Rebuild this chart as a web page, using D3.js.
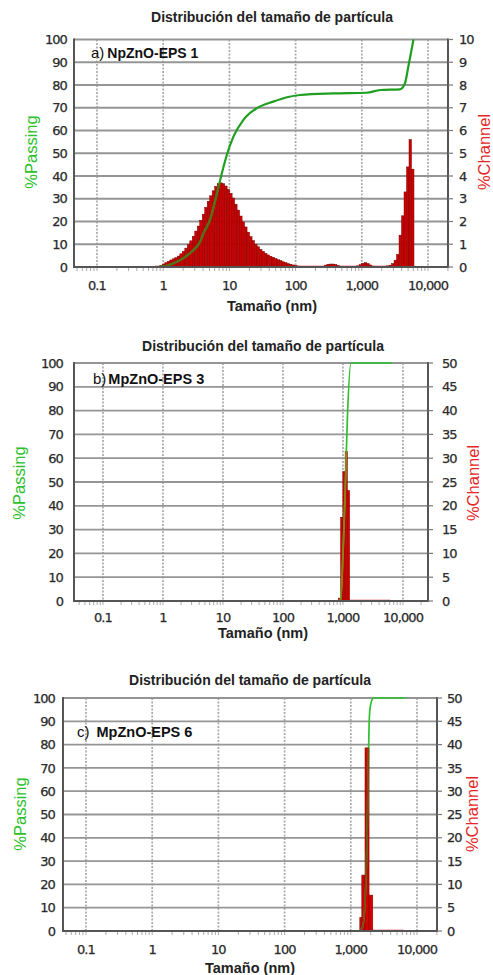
<!DOCTYPE html>
<html>
<head>
<meta charset="utf-8">
<script src="https://cdn.jsdelivr.net/npm/d3@7/dist/d3.min.js"></script>
<style>
  html, body { margin: 0; padding: 0; background: #ffffff; }
  svg { display: block; }
</style>
</head>
<body>
<svg id="chart" width="493" height="975"></svg>
<script>
// ---------- shared text and tick values ----------
const titleText = "Distribución del tamaño de partícula";
const xAxisTitle = "Tamaño (nm)";
const leftAxisTitle = "%Passing";
const rightAxisTitle = "%Channel";
const xTickValues = [0.1, 1, 10, 100, 1000, 10000];
const xTickLabels = ["0.1", "1", "10", "100", "1,000", "10,000"];
const passingTicks = [0, 10, 20, 30, 40, 50, 60, 70, 80, 90, 100];
const channelTicksA = [0, 1, 2, 3, 4, 5, 6, 7, 8, 9, 10];
const channelTicksBC = [0, 5, 10, 15, 20, 25, 30, 35, 40, 45, 50];

// ---------- a) NpZnO-EPS 1 ----------
// channel edges (nm), 8 channels per octave
const chanEdgesA = [
  0.7498, 0.8176, 0.8917,
  0.9723, 1.060, 1.156, 1.261, 1.375, 1.500, 1.635, 1.783,
  1.945, 2.121, 2.313, 2.522, 2.750, 2.999, 3.271, 3.567,
  3.889, 4.241, 4.625, 5.044, 5.500, 5.998, 6.541, 7.134,
  7.778, 8.482, 9.250, 10.09, 11.00, 12.00, 13.08, 14.27,
  15.56, 16.96, 18.50, 20.18, 22.00, 23.99, 26.16, 28.53,
  31.11, 33.93, 37.00, 40.35, 44.00, 47.99, 52.33, 57.07,
  62.23, 67.86, 74.00, 80.70, 88.00, 95.97, 104.7, 114.1,
  124.5, 135.7, 148.0, 161.4, 176.0, 191.9, 209.3, 228.3,
  248.9, 271.5, 296.0, 322.8, 352.0, 383.9, 418.6, 456.5,
  497.8, 542.9, 592.0, 645.6, 704.0, 767.7, 837.2, 913.0,
  995.6, 1086, 1184, 1291, 1408, 1536, 1674, 1826,
  1991, 2172, 2368, 2582, 2816, 3071, 3349, 3652,
  3983, 4343, 4736, 5165, 5632, 6142
];
// % in each channel
const chanPctA = [
  0.01, 0.03, 0.07,
  0.13, 0.19, 0.25, 0.31, 0.36, 0.41, 0.48, 0.58,
  0.69, 0.83, 0.98, 1.15, 1.35, 1.58, 1.80, 2.05,
  2.32, 2.62, 2.89, 3.13, 3.35, 3.54, 3.66, 3.70,
  3.66, 3.56, 3.41, 3.24, 3.03, 2.76, 2.50, 2.24,
  1.98, 1.76, 1.53, 1.33, 1.16, 1.00, 0.89, 0.78,
  0.69, 0.60, 0.53, 0.47, 0.42, 0.37, 0.32, 0.28,
  0.23, 0.19, 0.15, 0.12, 0.09, 0.06, 0.04, 0.02,
  0.01, 0, 0, 0, 0, 0, 0, 0.01,
  0.03, 0.08, 0.12, 0.13, 0.13, 0.11, 0.07, 0.03,
  0.01, 0, 0, 0, 0.01, 0.02, 0.05, 0.10,
  0.16, 0.19, 0.15, 0.09, 0.04, 0.02, 0.01, 0.01,
  0.02, 0.03, 0.05, 0.08, 0.15, 0.30, 0.55, 1.40,
  2.25, 3.30, 4.40, 5.60, 4.30
];
// cumulative % passing
const passSizeA = [0.85, 1.2, 1.8, 2.87, 3.6, 4.05, 5.1, 6.5, 7.7, 9.1, 11.5, 16.3, 26, 46, 74, 117, 372, 1180, 1900, 3790, 4480, 5040, 5600, 6030];
const passPctA  = [0, 0.8, 3, 7.5, 11, 14.8, 20.7, 32.4, 41.2, 49, 57.3, 64.7, 69.8, 72.7, 74.6, 75.6, 76.3, 76.6, 77.8, 78.1, 80.7, 88, 95, 100];

// ---------- b) MpZnO-EPS 3 ----------
const chanEdgesB = [837.2, 913.0, 995.6, 1086, 1184, 1291, 1408, 1536, 1674, 1826, 1991, 2172, 2368, 2582, 2816, 3071, 3349, 3652, 3983, 4343, 4736, 5165, 5632, 6142];
const chanPctB   = [0.6, 17.6, 27.2, 31.4, 23.2, 0, 0, 0, 0, 0, 0, 0, 0, 0, 0, 0, 0, 0, 0, 0, 0, 0, 0];
const passSizeB  = [0.95, 837.2, 913.0, 995.6, 1086, 1184, 1360, 6600];
const passPctB   = [0, 0, 0.6, 18.2, 45.4, 76.8, 100, 100];

// ---------- c) MpZnO-EPS 6 ----------
const chanEdgesC = [1368, 1466, 1638, 1888, 2148, 2400, 2700, 3050, 3450, 3900, 4400, 5000, 5650, 6300];
const chanPctC   = [2.9, 12.0, 39.3, 7.7, 0, 0, 0, 0, 0, 0, 0, 0, 0];
const passSizeC  = [0.95, 1321, 1517, 1656, 1775, 1857, 1910, 1991, 2113, 2223, 6775];
const passPctC   = [0, 0, 2, 15, 45, 78, 92, 97, 99.5, 100, 100];

// ---------- drawing ----------
const svg = d3.select("#chart");
const GREEN = "#1f9f1f";
const RED = "#cc0000";
const tickFont = "'DejaVu Sans', sans-serif";
const sansFont = "'Liberation Sans', Arial, sans-serif";

function tickText(sel) {
  sel.attr("font-family", tickFont).attr("font-size", 13).attr("letter-spacing", -0.9)
    .attr("fill", "#2a2a2a").attr("stroke", "#2a2a2a").attr("stroke-width", 0.25);
}

function drawPanel(p) {
  const g = svg.append("g");
  const x = d3.scaleLog().domain(p.xDomain).range([p.left, p.right]);
  const yP = d3.scaleLinear().domain([0, 100]).range([p.bottom, p.top]);
  const yC = d3.scaleLinear().domain([0, p.chanMax]).range([p.bottom, p.top]);

  // grid: dotted decades, solid every 10 %
  g.append("g").selectAll("line").data(xTickValues).join("line")
    .attr("x1", d => x(d)).attr("x2", d => x(d))
    .attr("y1", p.top).attr("y2", p.bottom)
    .attr("stroke", "#aaaaaa").attr("stroke-width", 1.7)
    .attr("stroke-dasharray", "2,1.5");
  g.append("g").selectAll("line").data(passingTicks).join("line")
    .attr("x1", p.left).attr("x2", p.right)
    .attr("y1", d => yP(d)).attr("y2", d => yP(d))
    .attr("stroke", "#959595").attr("stroke-width", 1.8);

  // minor ticks under the size axis
  g.append("g").selectAll("line").data(x.ticks()).join("line")
    .attr("x1", d => x(d)).attr("x2", d => x(d))
    .attr("y1", p.bottom + 1).attr("y2", p.bottom + 4)
    .attr("stroke", "#aaa").attr("stroke-width", 1);

  // channel histogram
  const bins = p.chanPct.map((v, i) => ({ x0: p.chanEdges[i], x1: p.chanEdges[i + 1], v }));
  const clipId = "bars-" + p.id;
  g.append("clipPath").attr("id", clipId)
    .selectAll("rect").data(bins).join("rect")
    .attr("x", d => x(d.x0)).attr("width", d => x(d.x1) - x(d.x0))
    .attr("y", d => yC(d.v)).attr("height", d => yC(0) - yC(d.v));

  g.append("line")
    .attr("x1", x(p.chanEdges[0])).attr("x2", x(p.chanEdges[p.chanEdges.length - 1]))
    .attr("y1", p.bottom - 0.5).attr("y2", p.bottom - 0.5)
    .attr("stroke", "#dd2020").attr("stroke-width", 1.6);

  g.append("g").selectAll("rect").data(bins.filter(d => d.v > 0)).join("rect")
    .attr("x", d => x(d.x0)).attr("width", d => x(d.x1) - x(d.x0))
    .attr("y", d => yC(d.v)).attr("height", d => yC(0) - yC(d.v))
    .attr("fill", p.barFill).attr("stroke", "#7a0000").attr("stroke-width", 0.5);

  // cumulative passing curve
  const pts = p.passSize.map((s, i) => [s, p.passPct[i]]);
  const line = d3.line().x(d => x(d[0])).y(d => yP(d[1])).curve(d3.curveMonotoneX);
  g.append("path").datum(pts).attr("d", line)
    .attr("fill", "none").attr("stroke", p.green).attr("stroke-width", p.lineWidth)
    .attr("stroke-linejoin", "round");
  // where the curve crosses the bars it shows darker
  g.append("path").datum(pts).attr("d", line)
    .attr("fill", "none").attr("stroke", p.overlap).attr("stroke-width", p.lineWidth)
    .attr("clip-path", `url(#${clipId})`);

  // frame
  const frame = "#555";
  g.append("line").attr("x1", p.left).attr("x2", p.left).attr("y1", p.top - 1).attr("y2", p.bottom + 1)
    .attr("stroke", frame).attr("stroke-width", 2);
  g.append("line").attr("x1", p.right).attr("x2", p.right).attr("y1", p.top - 1).attr("y2", p.bottom + 1)
    .attr("stroke", frame).attr("stroke-width", 2);
  g.append("line").attr("x1", p.left).attr("x2", p.right).attr("y1", p.bottom).attr("y2", p.bottom)
    .attr("stroke", frame).attr("stroke-width", 2.2);

  // left labels
  g.append("g").selectAll("text").data(passingTicks).join("text")
    .attr("x", p.left - p.leftLabelGap).attr("y", d => yP(d)).attr("dy", "0.36em")
    .attr("text-anchor", "end").call(tickText).text(d => d);

  // right ticks + labels
  g.append("g").selectAll("line").data(p.chanTicks).join("line")
    .attr("x1", p.right).attr("x2", p.right + 5)
    .attr("y1", d => yC(d)).attr("y2", d => yC(d))
    .attr("stroke", "#777").attr("stroke-width", 1.2);
  g.append("g").selectAll("text").data(p.chanTicks).join("text")
    .attr("x", p.right + p.rightLabelGap).attr("y", d => yC(d)).attr("dy", "0.36em")
    .attr("text-anchor", "start").call(tickText).text(d => d);

  // size axis labels
  g.append("g").selectAll("text").data(xTickValues).join("text")
    .attr("x", d => x(d)).attr("y", p.bottom + p.xLabelDrop)
    .attr("text-anchor", "middle").call(tickText).text((d, i) => xTickLabels[i]);

  // titles
  g.append("text").attr("x", p.titleX).attr("y", p.titleY)
    .attr("text-anchor", "middle")
    .attr("font-family", sansFont).attr("font-weight", "bold")
    .attr("font-size", 14).attr("fill", "#222").text(titleText);
  g.append("text").attr("x", p.titleX).attr("y", p.axisTitleY)
    .attr("text-anchor", "middle")
    .attr("font-family", sansFont).attr("font-weight", "bold")
    .attr("font-size", 14.5).attr("fill", "#222").text(xAxisTitle);
  g.append("text")
    .attr("transform", `translate(${p.passLabelX},${p.yLabelY}) rotate(-90)`)
    .attr("text-anchor", "middle").attr("dy", "0.35em")
    .attr("font-family", sansFont)
    .attr("font-size", 16.5).attr("fill", "#2cc02c").text(leftAxisTitle);
  g.append("text")
    .attr("transform", `translate(${p.chanLabelX},${p.yLabelY}) rotate(-90)`)
    .attr("text-anchor", "middle").attr("dy", "0.35em")
    .attr("font-family", sansFont)
    .attr("font-size", 16.5).attr("fill", "#e42828").text(rightAxisTitle);

  // sample label
  const lab = g.append("text").attr("x", p.labelX).attr("y", p.labelY)
    .attr("font-family", sansFont).attr("fill", "#111");
  lab.append("tspan").attr("font-size", 15).text(p.letter);
  lab.append("tspan").attr("dx", p.letterGap).attr("font-size", p.sampleSize)
    .attr("font-weight", "bold").text(p.sample);
}

drawPanel({
  id: "a", letter: "a)", sample: "NpZnO-EPS 1", letterGap: 3, sampleSize: 14,
  left: 74, right: 448, top: 39.5, bottom: 267,
  xDomain: [Math.pow(10, -1.347), Math.pow(10, 4.302)],
  chanMax: 10, chanTicks: channelTicksA,
  chanEdges: chanEdgesA, chanPct: chanPctA,
  passSize: passSizeA, passPct: passPctA,
  green: GREEN, overlap: "#5d6a18", lineWidth: 2.2, barFill: RED,
  leftLabelGap: 7, rightLabelGap: 11, xLabelDrop: 23,
  titleX: 272, titleY: 22, axisTitleY: 311,
  passLabelX: 31, chanLabelX: 484, yLabelY: 152,
  labelX: 91, labelY: 58
});

drawPanel({
  id: "b", letter: "b)", sample: "MpZnO-EPS 3", letterGap: 2, sampleSize: 14.5,
  left: 74, right: 428, top: 363, bottom: 601,
  xDomain: [Math.pow(10, -1.483), Math.pow(10, 4.417)],
  chanMax: 50, chanTicks: channelTicksBC,
  chanEdges: chanEdgesB, chanPct: chanPctB,
  passSize: passSizeB, passPct: passPctB,
  green: "#2ec02e", overlap: "#9a7a12", lineWidth: 1.7, barFill: "#d40000",
  leftLabelGap: 11, rightLabelGap: 14, xLabelDrop: 21,
  titleX: 263, titleY: 351, axisTitleY: 638,
  passLabelX: 19, chanLabelX: 473, yLabelY: 483,
  labelX: 93, labelY: 384
});

drawPanel({
  id: "c", letter: "c)", sample: "MpZnO-EPS 6", letterGap: 7, sampleSize: 14.5,
  left: 63, right: 437, top: 698, bottom: 931,
  xDomain: [Math.pow(10, -1.347), Math.pow(10, 4.302)],
  chanMax: 50, chanTicks: channelTicksBC,
  chanEdges: chanEdgesC, chanPct: chanPctC,
  passSize: passSizeC, passPct: passPctC,
  green: "#2ec02e", overlap: "#7a4a10", lineWidth: 1.7, barFill: "#d40000",
  leftLabelGap: 8, rightLabelGap: 10, xLabelDrop: 23,
  titleX: 250, titleY: 685, axisTitleY: 973,
  passLabelX: 20, chanLabelX: 472, yLabelY: 814,
  labelX: 77, labelY: 737
});
</script>
</body>
</html>
